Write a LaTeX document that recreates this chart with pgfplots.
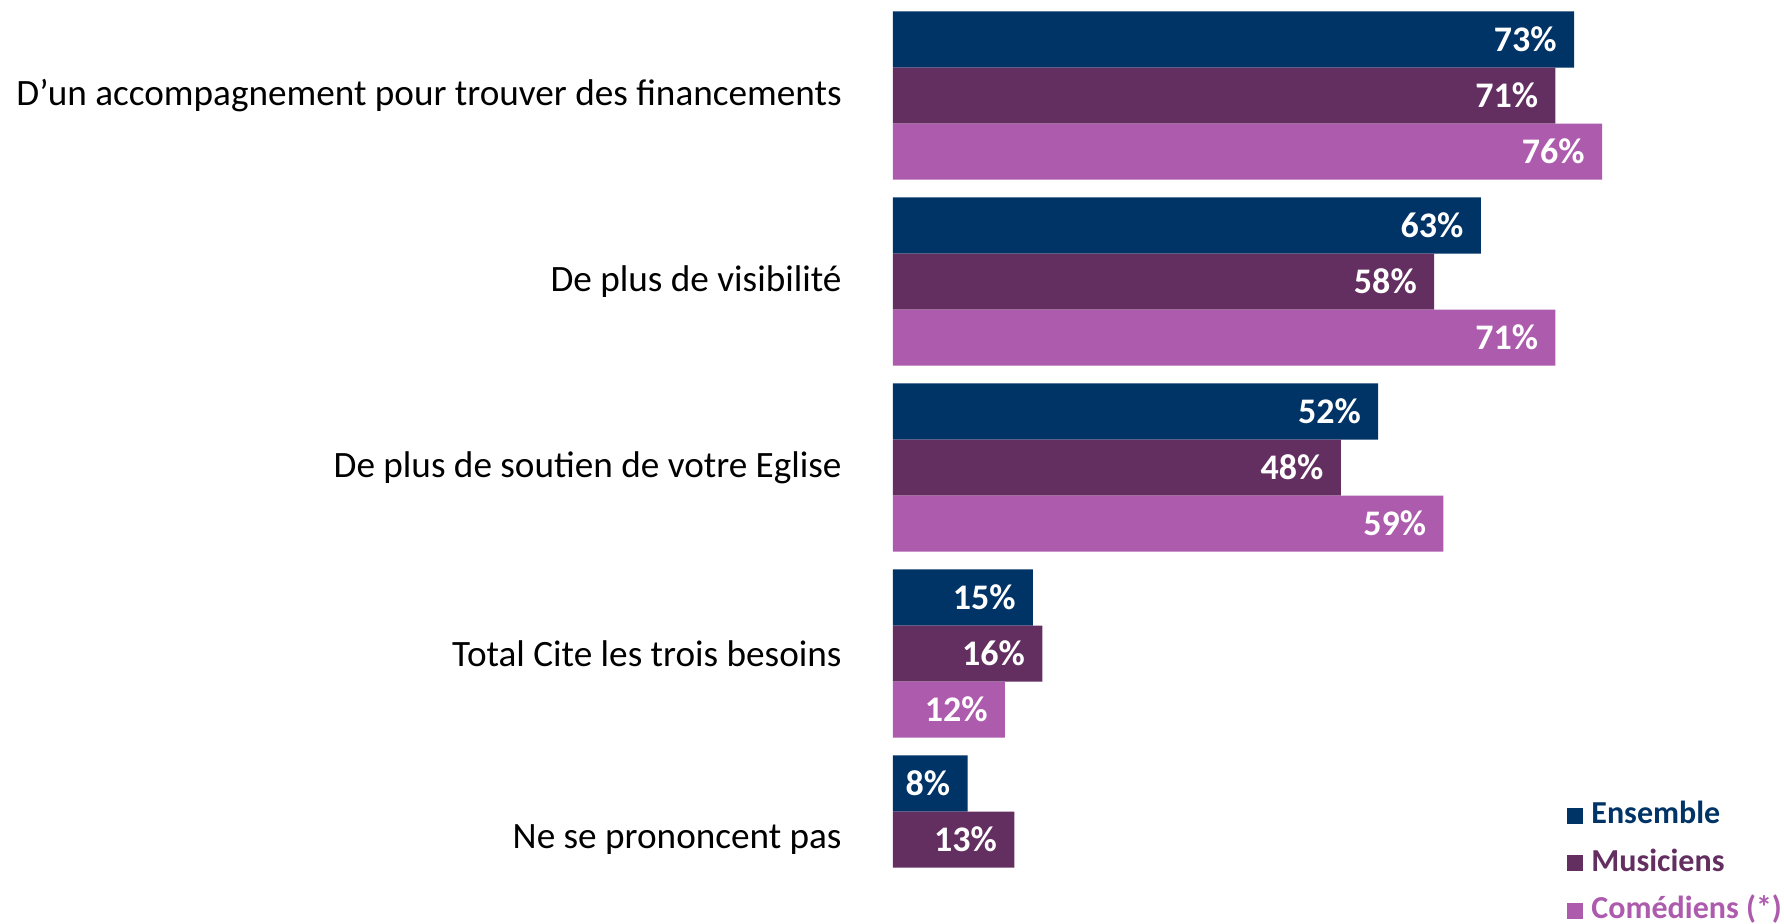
\documentclass[border=0pt]{standalone}
\usepackage{fontspec}
\setmainfont{Carlito}
\usepackage{pgfplots}
\pgfplotsset{compat=1.18}
\definecolor{ens}{RGB}{0,51,102}
\definecolor{mus}{RGB}{99,47,97}
\definecolor{com}{RGB}{173,91,173}
\begin{document}
\begin{tikzpicture}[x=1pt,y=1pt]
\useasboundingbox (0,0) rectangle (892,462);
\begin{axis}[
  at={(446.5pt,0pt)}, anchor=south west,
  scale only axis, width=445.5pt, height=462pt,
  xbar, xmin=0, xmax=95.5, ymin=-0.514, ymax=4.454, y dir=reverse,
  enlargelimits=false, clip=false,
  /pgf/number format/assume math mode=true,
  axis line style={draw=none}, major tick length=0pt,
  xtick=\empty,
  ytick={0,1,2,3,4},
  yticklabels={D’un accompagnement pour trouver des financements, De plus de visibilité, De plus de soutien de votre Eglise, Total Cite les trois besoins, Ne se prononcent pas},
  yticklabel style={font=\fontsize{18.6}{22}\selectfont, anchor=east, inner sep=0pt, xshift=-25.5pt},
  bar width=0.3016,
  nodes near coords={\pgfmathprintnumber{\pgfplotspointmeta}\%},
  every node near coord/.append style={anchor=east, xshift=-8.5pt, text=white, font=\bfseries\fontsize{18}{21}\selectfont, inner sep=0pt},
  legend image code/.code={\fill[#1] (0pt,-4pt) rectangle (8pt,4pt);},
  legend cell align=left,
  legend style={at={(rel axis cs:0.7565,0.1325)}, anchor=north west, draw=none, fill=none, inner sep=0pt, row sep=9.7pt,
    font=\bfseries\fontsize{16}{19}\selectfont,
    nodes={inner sep=0pt, inner xsep=4pt, text height=11pt, text depth=3pt}},
]
\addplot[fill=ens, draw=none, bar shift=-0.3016] coordinates {(73,0) (63,1) (52,2) (15,3) (8,4)};
\addlegendentry{\textcolor{ens}{Ensemble}}
\addplot[fill=mus, draw=none, bar shift=0] coordinates {(71,0) (58,1) (48,2) (16,3) (13,4)};
\addlegendentry{\textcolor{mus}{Musiciens}}
\addplot[fill=com, draw=none, bar shift=0.3016] coordinates {(76,0) (71,1) (59,2) (12,3)};
\addlegendentry{\textcolor{com}{Comédiens (*)}}
\end{axis}
\end{tikzpicture}
\end{document}
